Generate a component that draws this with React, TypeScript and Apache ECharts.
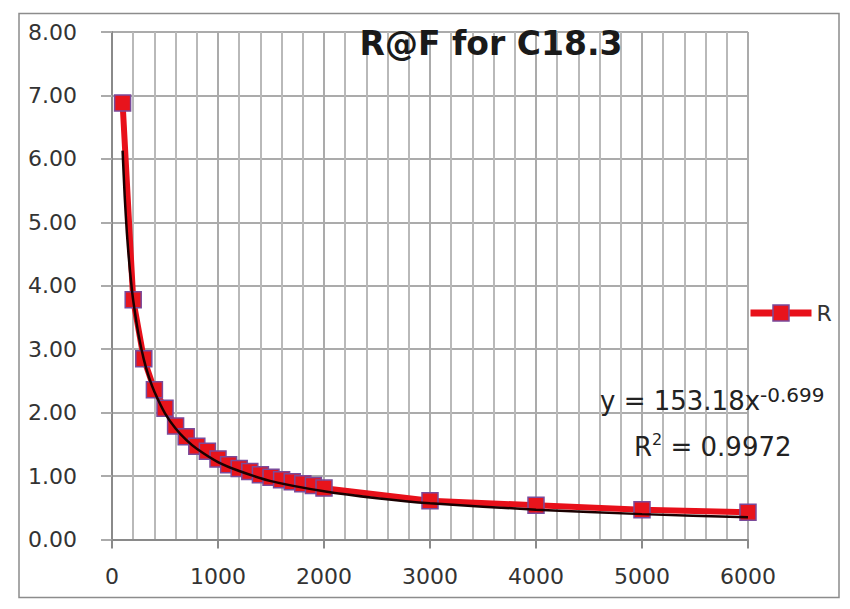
import React, { useEffect, useRef } from "react";
import * as echarts from "echarts";

// ---- data ----
const TITLE = "R@F for C18.3";
const SERIES_NAME = "R";
const fValues = [100, 200, 300, 400, 500, 600, 700, 800, 900, 1000, 1100, 1200, 1300, 1400, 1500, 1600, 1700, 1800, 1900, 2000, 3000, 4000, 5000, 6000];
const rValues = [6.88, 3.78, 2.85, 2.36, 2.07, 1.79, 1.62, 1.47, 1.39, 1.27, 1.18, 1.12, 1.07, 1.02, 0.98, 0.94, 0.91, 0.88, 0.85, 0.81, 0.61, 0.54, 0.47, 0.43];
// power trendline
const trendF = [100, 120, 140, 160, 180, 200, 250, 300, 350, 400, 500, 600, 700, 800, 1000, 1200, 1500, 2000, 2500, 3000, 4000, 5000, 6000];
const trendR = [6.13, 5.4, 4.84, 4.41, 4.06, 3.77, 3.23, 2.84, 2.55, 2.33, 1.99, 1.75, 1.57, 1.43, 1.22, 1.08, 0.92, 0.76, 0.65, 0.57, 0.47, 0.4, 0.35];
const xMin = 0;
const xMax = 6000;
const xStep = 1000;
const yMin = 0;
const yMax = 8;
const yStep = 1;
const eqMain = "y = 153.18x";
const eqExp = "-0.699";
const r2Value = "0.9972";

const FONT = "DejaVu Sans";

export default function App() {
  const ref = useRef<HTMLDivElement>(null);
  useEffect(() => {
    if (!ref.current) return;
    const chart = echarts.init(ref.current, null, { renderer: "svg" });
    const rData = fValues.map((f, i) => [f, rValues[i]]);
    const tData = trendF.map((f, i) => [f, trendR[i]]);
    const gridColor = "#ababab";
    const axisColor = "#8a8a8a";
    chart.setOption({
      animation: false,
      backgroundColor: "#ffffff",
      grid: { left: 112, top: 32, width: 636, height: 507.5 },
      legend: {
        data: [SERIES_NAME],
        left: 747,
        top: 302,
        padding: 0,
        itemWidth: 61,
        itemHeight: 20,
        textStyle: { fontSize: 22, fontFamily: FONT, color: "#333" },
        lineStyle: { width: 7 },
        itemStyle: { borderWidth: 1.5, borderColor: "#7a4a9a" },
      },
      xAxis: {
        type: "value",
        min: xMin,
        max: xMax,
        interval: xStep,
        axisLine: { show: true, onZero: false, lineStyle: { color: axisColor, width: 2 } },
        axisTick: { show: true, length: 9, lineStyle: { color: axisColor, width: 2 } },
        axisLabel: {
          margin: 26,
          fontSize: 22,
          fontFamily: FONT,
          color: "#333",
          formatter: (v: number) => String(v),
        },
        splitLine: { show: true, lineStyle: { color: gridColor, width: 2 } },
        minorTick: { show: false, splitNumber: 5 },
        minorSplitLine: { show: true, lineStyle: { color: "#b9b9b9", width: 2 } },
      },
      yAxis: {
        type: "value",
        min: yMin,
        max: yMax,
        interval: yStep,
        axisLine: { show: true, lineStyle: { color: axisColor, width: 2 } },
        axisTick: { show: true, length: 11, lineStyle: { color: gridColor, width: 2 } },
        axisLabel: {
          margin: 35,
          fontSize: 22,
          fontFamily: FONT,
          color: "#333",
          formatter: (v: number) => v.toFixed(2),
        },
        splitLine: { show: true, lineStyle: { color: gridColor, width: 2 } },
      },
      series: [
        {
          name: SERIES_NAME,
          type: "line",
          data: rData,
          symbol: "rect",
          symbolSize: 16,
          lineStyle: { color: "#e8101a", width: 6 },
          itemStyle: { color: "#e8141c", borderColor: "#7a4a9a", borderWidth: 1.5 },
          z: 2,
        },
        {
          name: "trend",
          type: "line",
          data: tData,
          symbol: "none",
          smooth: 0.2,
          lineStyle: { color: "#1a0000", width: 2.5 },
          z: 3,
          silent: true,
        },
      ],
      graphic: [
        {
          type: "rect",
          silent: true,
          shape: { x: 19, y: 13.5, width: 820, height: 584 },
          style: { fill: "none", stroke: "#8c8c8c", lineWidth: 1.5 },
          z: 0,
        },
        {
          type: "text",
          x: 491,
          y: 43,
          style: {
            text: TITLE,
            fontSize: 33,
            fontWeight: "bold",
            fontFamily: FONT,
            fill: "#1a1a1a",
            align: "center",
            verticalAlign: "middle",
          },
          z: 10,
        },
        {
          type: "text",
          x: 600,
          y: 385,
          style: {
            text: `{m|${eqMain}}{s|${eqExp}}`,
            verticalAlign: "top",
            rich: {
              m: { fontSize: 26, fontFamily: FONT, fill: "#222", lineHeight: 32 },
              s: { fontSize: 20, fontFamily: FONT, fill: "#222", verticalAlign: "top" },
            },
          },
          z: 10,
        },
        {
          type: "text",
          x: 634,
          y: 431,
          style: {
            text: `{m|R}{s|2}{m| = ${r2Value}}`,
            verticalAlign: "top",
            rich: {
              m: { fontSize: 26, fontFamily: FONT, fill: "#222", lineHeight: 32 },
              s: { fontSize: 16, fontFamily: FONT, fill: "#222", verticalAlign: "top" },
            },
          },
          z: 10,
        },
      ],
    });
    return () => chart.dispose();
  }, []);
  return (
    <div
      ref={ref}
      style={{ position: "absolute", left: 0, top: 0, width: 850, height: 609 }}
    />
  );
}
